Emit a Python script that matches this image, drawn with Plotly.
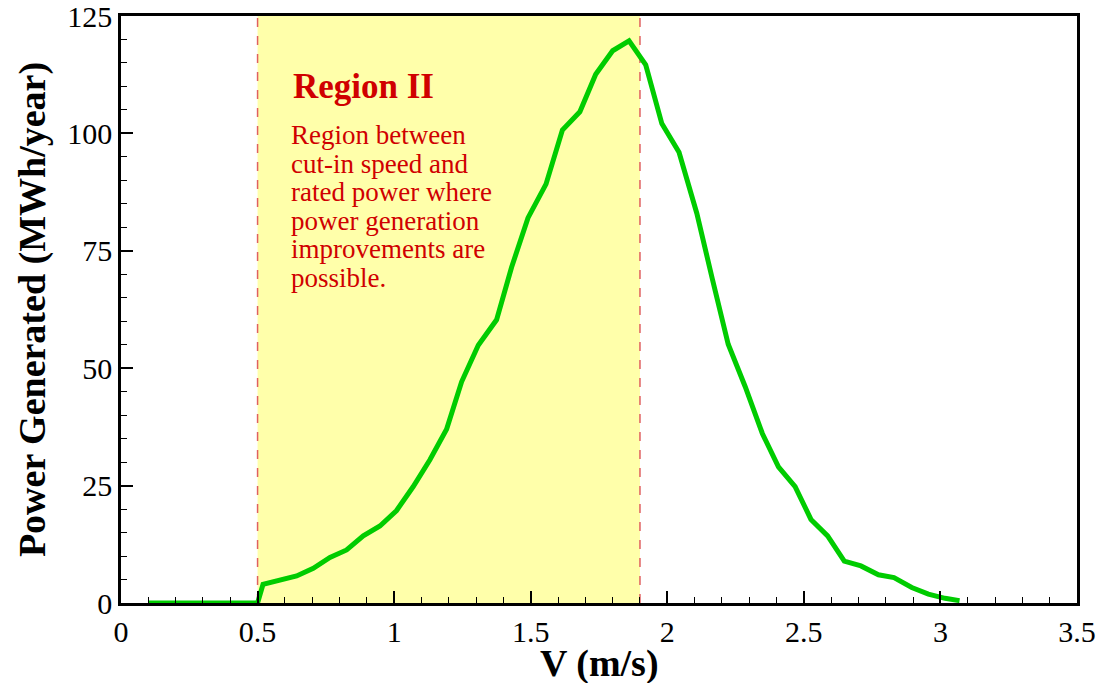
import plotly.graph_objects as go

# Data
v = [0.1, 0.2, 0.3, 0.4, 0.5, 0.52, 0.582, 0.643, 0.704, 0.765, 0.826, 0.887, 0.948,
     1.009, 1.07, 1.131, 1.192, 1.247, 1.308, 1.375, 1.43, 1.49, 1.556, 1.616, 1.68,
     1.738, 1.80, 1.86, 1.921, 1.98, 2.043, 2.108, 2.165, 2.223, 2.285, 2.348, 2.407,
     2.468, 2.526, 2.587, 2.648, 2.709, 2.773, 2.83, 2.895, 2.956, 3.017, 3.07]
power = [0, 0, 0, 0, 0, 4.0, 4.75, 5.75, 7.4, 9.7, 11.3, 14.3, 16.4,
         19.7, 24.8, 30.5, 37.0, 47.1, 54.9, 60.3, 71.5, 82.0, 89.2, 100.7, 104.6,
         112.6, 117.6, 119.7, 114.6, 102.1, 96.0, 83.0, 69.0, 55.1, 46.1, 36.1, 29.0,
         24.8, 17.8, 14.3, 8.9, 7.9, 6.0, 5.4, 3.3, 1.9, 1.0, 0.5]

region_start = 0.5
region_end = 1.9
x_ticks = [0, 0.5, 1, 1.5, 2, 2.5, 3, 3.5]
x_tick_text = ["0", "0.5", "1", "1.5", "2", "2.5", "3", "3.5"]
y_ticks = [0, 25, 50, 75, 100, 125]

note_title = "Region II"
note_lines = ["Region between", "cut-in speed and", "rated power where",
              "power generation", "improvements are", "possible."]

FONT = "Liberation Serif"
RED = "#D00000"

fig = go.Figure()

fig.add_shape(type="rect", xref="x", yref="y", x0=region_start, x1=region_end,
              y0=0, y1=125, fillcolor="#FFFFAA", line_width=0, layer="below")
for xv in (region_start, region_end):
    fig.add_shape(type="line", xref="x", yref="y", x0=xv, x1=xv, y0=0, y1=125,
                  line=dict(color="#E06060", width=1.5, dash="dash"), layer="below")

fig.add_trace(go.Scatter(x=v, y=power, mode="lines",
                         line=dict(color="#00CC00", width=5), showlegend=False))

fig.add_annotation(x=0.626, y=110.0, xref="x", yref="y", text="<b>" + note_title + "</b>",
                   showarrow=False, xanchor="left", yanchor="middle", borderpad=0,
                   font=dict(family=FONT, size=35, color=RED))
for i, line in enumerate(note_lines):
    fig.add_annotation(x=0.618, y=99.6 - i * 6.07, xref="x", yref="y", text=line,
                       showarrow=False, xanchor="left", yanchor="middle", borderpad=0,
                       font=dict(family=FONT, size=27, color=RED))

# x-axis title (placed as annotation to match the reference's position)
fig.add_annotation(x=0.5, y=0, xref="paper", yref="paper", yshift=-60,
                   text="<b>V (m/s)</b>", showarrow=False, xanchor="center", yanchor="middle",
                   font=dict(family=FONT, size=38, color="black"))

axis_common = dict(showline=True, linecolor="black", linewidth=2.5, mirror=True,
                   ticks="inside", ticklen=12, tickwidth=2, tickcolor="black",
                   showgrid=False, zeroline=False, automargin=False,
                   ticklabeloverflow="allow",
                   tickfont=dict(family=FONT, size=30, color="black"))

fig.update_xaxes(range=[0, 3.5], tickvals=x_ticks, ticktext=x_tick_text,
                 minor=dict(dtick=0.1, ticks="inside", ticklen=6, tickwidth=1, tickcolor="black", showgrid=False),
                 **axis_common)
fig.update_yaxes(range=[0, 125], tickvals=y_ticks,
                 minor=dict(dtick=5, ticks="inside", ticklen=6, tickwidth=1, tickcolor="black", showgrid=False),
                 title=dict(text="<b>Power Generated (MWh/year)</b>", font=dict(family=FONT, size=38, color="black"), standoff=10),
                 **axis_common)

fig.update_layout(width=1107, height=683, paper_bgcolor="white", plot_bgcolor="white",
                  margin=dict(l=121, r=30, t=16, b=80))

fig.write_html("out.html", config={"displayModeBar": False},
               post_script="document.body.style.margin='0';document.body.style.overflow='hidden';")
